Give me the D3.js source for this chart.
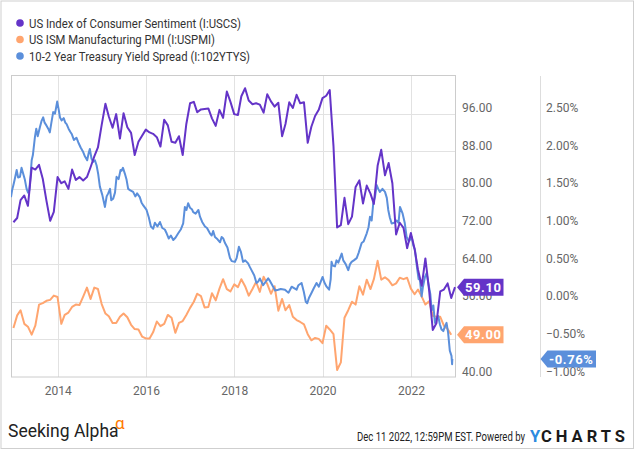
<!DOCTYPE html>
<html><head><meta charset="utf-8">
<script src="https://cdn.jsdelivr.net/npm/d3@7"></script>
<style>html,body{margin:0;padding:0;background:#fff}svg{display:block}text{font-family:Roboto,"Noto Sans",sans-serif}</style>
</head><body>
<svg id="c" width="635" height="450"></svg>
<script>
// ---------- DATA ----------
const seriesNames = ["US Index of Consumer Sentiment (I:USCS)", "US ISM Manufacturing PMI (I:USPMI)", "10-2 Year Treasury Yield Spread (I:102YTYS)"];
const seriesColors = ["#6434c8", "#ffa56f", "#5b8fdb"];
const legendWidths = [212, 186, 221];
const firstMonth = "2012-12";
// Monthly, Dec 2012 .. Dec 2022
const sentiment = [72.9,
 73.8,77.6,78.6,76.4,84.5,84.1,85.1,82.1,77.5,73.2,75.1,82.5,
 81.2,81.6,80.0,84.1,81.9,82.5,81.8,82.5,84.6,86.9,88.8,93.6,
 98.1,95.4,93.0,95.9,90.7,96.1,93.1,91.9,87.2,90.0,91.3,92.6,
 92.0,91.7,91.0,89.0,94.7,93.5,90.0,89.8,91.2,87.2,93.8,98.2,
 98.5,96.3,96.9,97.0,97.1,95.0,93.4,96.8,95.1,100.7,98.5,95.9,
 95.7,99.7,101.4,98.8,98.0,98.2,97.9,96.2,100.1,98.6,97.5,98.3,
 91.2,93.8,98.4,97.2,100.0,98.2,98.4,89.8,93.2,95.5,96.8,99.3,
 99.8,101.0,89.1,71.8,72.3,78.1,72.5,74.1,80.4,81.8,76.9,80.7,
 79.0,76.8,84.9,88.3,82.9,85.5,81.2,70.3,72.8,71.7,67.4,70.6,
 67.2,62.8,59.4,65.2,58.4,50.0,51.5,58.2,58.6,59.9,56.8,59.1];
// Monthly, Dec 2012 .. Nov 2022
const pmi = [50.4,
 53.1,54.2,51.3,50.7,49.0,50.9,55.4,55.7,56.2,56.4,57.3,57.0,
 51.3,53.2,53.7,54.9,55.4,55.3,57.1,59.0,56.6,59.0,58.7,55.5,
 53.5,52.9,51.5,51.5,52.8,53.5,52.7,51.1,50.2,50.1,48.6,48.2,
 48.2,49.5,51.8,50.8,51.3,53.2,52.6,49.4,51.5,51.9,53.2,54.7,
 56.0,57.7,57.2,54.8,54.9,57.8,56.3,58.8,60.8,58.7,58.2,59.7,
 59.1,60.8,59.3,57.3,58.7,60.2,58.1,61.3,59.8,57.7,59.3,54.1,
 56.6,54.2,55.3,52.8,52.1,51.7,51.2,49.1,47.8,48.3,48.1,47.2,
 50.9,50.1,49.1,41.5,43.1,52.6,54.2,56.0,55.4,59.3,57.5,60.7,
 58.7,60.8,64.7,60.7,61.2,60.6,59.5,59.9,61.1,60.8,61.1,58.8,
 57.6,58.6,57.1,55.4,56.1,53.0,52.8,52.8,50.9,50.2,49.0];
const spreadDates = ["2012-12-11","2012-12-20","2012-12-31","2013-01-10","2013-01-27","2013-02-08","2013-02-23","2013-03-08","2013-03-22","2013-04-05","2013-04-19","2013-05-01","2013-05-11","2013-05-22","2013-05-31","2013-06-10","2013-06-27","2013-07-08","2013-07-20","2013-08-07","2013-08-20","2013-09-03","2013-09-15","2013-10-01","2013-10-15","2013-10-28","2013-11-10","2013-11-25","2013-12-10","2013-12-28",
"2014-01-10","2014-01-20","2014-02-03","2014-02-20","2014-03-05","2014-03-16","2014-04-01","2014-04-15","2014-04-27","2014-05-15","2014-06-05","2014-06-20","2014-07-10","2014-07-31","2014-08-15","2014-09-02","2014-09-15","2014-09-24","2014-10-08","2014-10-22","2014-11-05","2014-11-19","2014-12-02","2014-12-16",
"2015-01-05","2015-01-27","2015-02-10","2015-02-23","2015-03-10","2015-03-20","2015-04-05","2015-04-20","2015-05-03","2015-05-20","2015-06-05","2015-06-13","2015-06-25","2015-07-11","2015-07-25","2015-08-07","2015-08-25","2015-09-17","2015-10-05","2015-10-20","2015-11-11","2015-11-25","2015-12-10",
"2016-01-06","2016-01-25","2016-02-11","2016-03-01","2016-03-15","2016-04-05","2016-04-26","2016-05-15","2016-06-05","2016-06-20","2016-07-08","2016-07-25","2016-08-14","2016-09-01","2016-09-24","2016-10-15","2016-11-04","2016-11-18","2016-12-01","2016-12-15","2016-12-30",
"2017-01-15","2017-01-26","2017-02-15","2017-03-10","2017-03-23","2017-04-10","2017-05-03","2017-05-20","2017-06-13","2017-06-28","2017-07-10","2017-07-25","2017-08-15","2017-09-05","2017-09-18","2017-10-02","2017-10-16","2017-11-05","2017-11-26","2017-12-10",
"2018-01-06","2018-01-20","2018-02-08","2018-02-25","2018-03-14","2018-04-01","2018-04-25","2018-05-10","2018-05-23","2018-06-15","2018-07-03","2018-07-18","2018-07-31","2018-08-15","2018-08-27","2018-09-15","2018-10-08","2018-10-25","2018-11-18","2018-12-05","2018-12-30",
"2019-01-20","2019-02-24","2019-03-10","2019-03-25","2019-04-20","2019-05-10","2019-05-31","2019-06-15","2019-07-11","2019-07-30","2019-08-15","2019-08-27","2019-09-10","2019-10-02","2019-10-20","2019-11-12","2019-12-01",
"2020-01-01","2020-01-15","2020-02-03","2020-02-24","2020-03-08","2020-03-15","2020-03-25","2020-04-12","2020-04-25","2020-05-10","2020-06-07","2020-06-20","2020-07-10","2020-07-31","2020-08-15","2020-08-28","2020-09-15","2020-10-09","2020-10-25","2020-11-19","2020-12-05","2020-12-31",
"2021-01-15","2021-01-27","2021-02-10","2021-02-23","2021-03-10","2021-03-23","2021-04-05","2021-04-19","2021-05-10","2021-05-31","2021-06-15","2021-06-27","2021-07-10","2021-07-25","2021-08-15","2021-09-04","2021-09-20","2021-10-02","2021-10-24","2021-11-10","2021-11-26","2021-12-15",
"2022-01-07","2022-01-20","2022-02-03","2022-02-20","2022-03-05","2022-03-16","2022-03-30","2022-04-10","2022-04-27","2022-05-10","2022-05-24","2022-06-10","2022-06-21","2022-07-05","2022-07-18","2022-07-30","2022-08-14","2022-08-28","2022-09-11","2022-09-25","2022-10-08","2022-10-22","2022-11-04","2022-11-18","2022-12-02","2022-12-07","2022-12-09"];
const spreadVals = [1.39,1.48,1.55,1.62,1.75,1.65,1.66,1.78,1.70,1.62,1.50,1.45,1.48,1.68,1.88,1.95,2.19,2.30,2.20,2.32,2.40,2.45,2.38,2.34,2.30,2.25,2.38,2.52,2.50,2.66,
2.55,2.45,2.41,2.44,2.38,2.36,2.30,2.26,2.23,2.15,2.18,2.12,2.05,1.99,1.93,1.88,1.98,2.03,1.90,1.86,1.88,1.81,1.70,1.53,
1.42,1.26,1.40,1.44,1.50,1.35,1.37,1.45,1.66,1.63,1.75,1.74,1.78,1.70,1.62,1.50,1.48,1.46,1.40,1.44,1.39,1.32,1.28,
1.22,1.12,1.00,0.97,1.05,1.00,1.06,0.98,0.96,0.91,0.84,0.88,0.82,0.85,0.91,0.96,1.04,1.26,1.22,1.31,1.25,
1.23,1.19,1.17,1.22,1.13,1.06,1.00,0.98,0.91,0.88,0.94,0.86,0.83,0.79,0.86,0.84,0.78,0.72,0.58,0.54,
0.53,0.58,0.73,0.66,0.53,0.55,0.51,0.46,0.42,0.35,0.25,0.27,0.31,0.26,0.22,0.26,0.31,0.27,0.20,0.15,0.16,
0.17,0.16,0.14,0.12,0.20,0.18,0.16,0.22,0.25,0.13,0.00,-0.02,0.05,0.12,0.18,0.25,0.20,
0.33,0.26,0.20,0.16,0.30,0.53,0.48,0.47,0.55,0.52,0.64,0.55,0.50,0.42,0.50,0.53,0.55,0.58,0.65,0.78,0.80,0.91,
0.99,1.13,1.08,1.31,1.40,1.55,1.50,1.46,1.50,1.46,1.38,1.22,1.12,1.04,1.05,1.08,1.05,1.26,1.17,1.05,0.86,0.80,
0.86,0.75,0.69,0.45,0.30,0.29,0.07,0.20,0.33,0.38,0.25,0.10,-0.11,-0.05,-0.28,-0.22,-0.19,-0.30,-0.37,-0.39,-0.33,-0.28,-0.41,-0.65,-0.72,-0.83,-0.76];
const leftTicks = [40,48,56,64,72,80,88,96];
const rightTicks = [-1,-0.5,0,0.5,1,1.5,2,2.5];
const xTickYears = ["2014","2016","2018","2020","2022"];
const xDomain = ["2012-12-11","2022-12-31"];
const lastLabels = ["59.10","49.00","-0.76%"];
const footerDate = "Dec 11 2022, 12:59PM EST.  Powered by";

// ---------- LAYOUT ----------
const svg = d3.select("#c");
const P = {l:11, r:455, t:76, b:377};
const parseDay = d3.timeParse("%Y-%m-%d");
const parseMonth = d3.timeParse("%Y-%m");
const monthEnd = i => d3.timeDay.offset(d3.timeMonth.offset(parseMonth(firstMonth), i+1), -1);

const x = d3.scaleTime().domain(xDomain.map(parseDay)).range([P.l, P.r]);
const yL = d3.scaleLinear().domain([40,104]).range([P.b, P.t]);
const yR = d3.scaleLinear().domain([-1,3]).range([P.b, P.t]);

// outer border
svg.append("rect").attr("x",1).attr("y",1).attr("width",632.5).attr("height",447.5)
  .attr("fill","#fff").attr("stroke","#cfcfcf").attr("stroke-width",1);

// grid
const g = svg.append("g");
g.selectAll(".hg").data(leftTicks.slice(1)).join("line")
  .attr("x1",P.l).attr("x2",P.r).attr("y1",d=>Math.round(yL(d))+0.5).attr("y2",d=>Math.round(yL(d))+0.5)
  .attr("stroke","#e2e2e2");
g.selectAll(".vg").data(xTickYears).join("line")
  .attr("y1",P.t).attr("y2",P.b).attr("x1",d=>Math.round(x(parseDay(d+"-01-01")))+0.5).attr("x2",d=>Math.round(x(parseDay(d+"-01-01")))+0.5)
  .attr("stroke","#e2e2e2");
// frame
g.append("rect").attr("x",P.l+0.5).attr("y",P.t-0.5).attr("width",P.r-P.l).attr("height",P.b-P.t+0.5)
  .attr("fill","none").attr("stroke","#cccccc");
// separator between right axes
g.append("line").attr("x1",540.5).attr("x2",540.5).attr("y1",P.t).attr("y2",P.b).attr("stroke","#dddddd");

// axes using d3 axis generators (styled)
const axL = d3.axisRight(yL).tickValues(leftTicks).tickFormat(d3.format(".2f")).tickSize(0).tickPadding(0);
const axR = d3.axisRight(yR).tickValues(rightTicks).tickFormat(d=>d3.format(".2f")(d)+"%").tickSize(0).tickPadding(0);
const axX = d3.axisBottom(x).tickValues(xTickYears.map(d=>parseDay(d+"-01-01"))).tickFormat(d3.timeFormat("%Y")).tickSize(0).tickPadding(0);
function style(sel){ sel.select(".domain").remove(); sel.selectAll("text").attr("fill","#666").attr("font-size","12px").attr("font-family","Roboto"); }
svg.append("g").attr("transform","translate(462,0)").call(axL).call(style)
  .selectAll("text").attr("dy","-2px").attr("text-anchor","start").attr("x",0);
svg.append("g").attr("transform","translate(546,0)").call(axR).call(style)
  .selectAll("text").attr("dy","-2px").attr("text-anchor","start").attr("x",0);
svg.append("g").attr("transform","translate(0,385)").call(axX).call(style)
  .selectAll("text").attr("dy","10px").attr("y",0);

// lines
svg.append("clipPath").attr("id","pc").append("rect").attr("x",P.l).attr("y",P.t-2).attr("width",P.r-P.l+2).attr("height",P.b-P.t+4);
const lineL = d3.line().x(d=>x(d[0])).y(d=>yL(d[1]));
const lineR = d3.line().x(d=>x(d[0])).y(d=>yR(d[1]));
const sentData = sentiment.map((v,i)=>[monthEnd(i),v]);
const pmiData = pmi.map((v,i)=>[monthEnd(i),v]);
const sprData = spreadVals.map((v,i)=>[parseDay(spreadDates[i]),v]);
const lg = svg.append("g").attr("clip-path","url(#pc)");
lg.append("path").datum(pmiData).attr("d",lineL).attr("fill","none").attr("stroke",seriesColors[1]).attr("stroke-width",2).attr("stroke-linejoin","round");
lg.append("path").datum(sprData).attr("d",lineR).attr("fill","none").attr("stroke",seriesColors[2]).attr("stroke-width",2).attr("stroke-linejoin","round");
lg.append("path").datum(sentData).attr("d",lineL).attr("fill","none").attr("stroke",seriesColors[0]).attr("stroke-width",2).attr("stroke-linejoin","round");

// end labels
function flag(x0,x1,cy,color,txt){
  const h=8.5;
  svg.append("path").attr("d",`M${x0},${cy}L${x0+7},${cy-h}L${x1},${cy-h}L${x1},${cy+h}L${x0+7},${cy+h}Z`).attr("fill",color);
  svg.append("text").attr("x",(x0+6+x1)/2).attr("y",cy).attr("dy","0.36em").attr("text-anchor","middle")
    .attr("fill","#fff").attr("font-weight","700").attr("font-size","13px").attr("letter-spacing","0.6px").text(txt);
}
flag(457,503.5,yL(sentiment[sentiment.length-1]),seriesColors[0],lastLabels[0]);
flag(457,503.5,yL(pmi[pmi.length-1]),seriesColors[1],lastLabels[1]);
flag(540.5,596,yR(spreadVals[spreadVals.length-1]),seriesColors[2],lastLabels[2]);

// legend
const leg = svg.append("g");
seriesNames.forEach((n,i)=>{
  const cy = 23 + i*16.5;
  leg.append("circle").attr("cx",20).attr("cy",cy).attr("r",3.8).attr("fill",seriesColors[i]);
  leg.append("text").attr("x",29).attr("y",cy+4.5).attr("font-size","12.5px").attr("fill","#333")
    .attr("textLength",legendWidths[i]).attr("lengthAdjust","spacingAndGlyphs").text(n);
});

// footer
svg.append("text").attr("x",8).attr("y",437).attr("font-family","Lato").attr("font-size","17.5px").attr("fill","#222").text("Seeking Alpha");
svg.append("text").attr("x",115).attr("y",429).attr("font-family","Lato").attr("font-size","17px").attr("fill","#ff7a00").text("α");
svg.append("text").attr("x",357).attr("y",441).attr("font-size","12px").attr("fill","#222")
  .attr("textLength",168).attr("lengthAdjust","spacingAndGlyphs").text(footerDate);
svg.append("text").attr("x",530).attr("y",441.5).attr("font-size","16.5px").attr("font-weight","700").attr("fill","#2c8be0").text("Y");
svg.append("text").attr("x",541).attr("y",441.5).attr("font-size","16.5px").attr("font-weight","700").attr("fill","#1a1a1a")
  .attr("textLength",84).attr("lengthAdjust","spacing").text("CHARTS");
</script>
</body></html>
